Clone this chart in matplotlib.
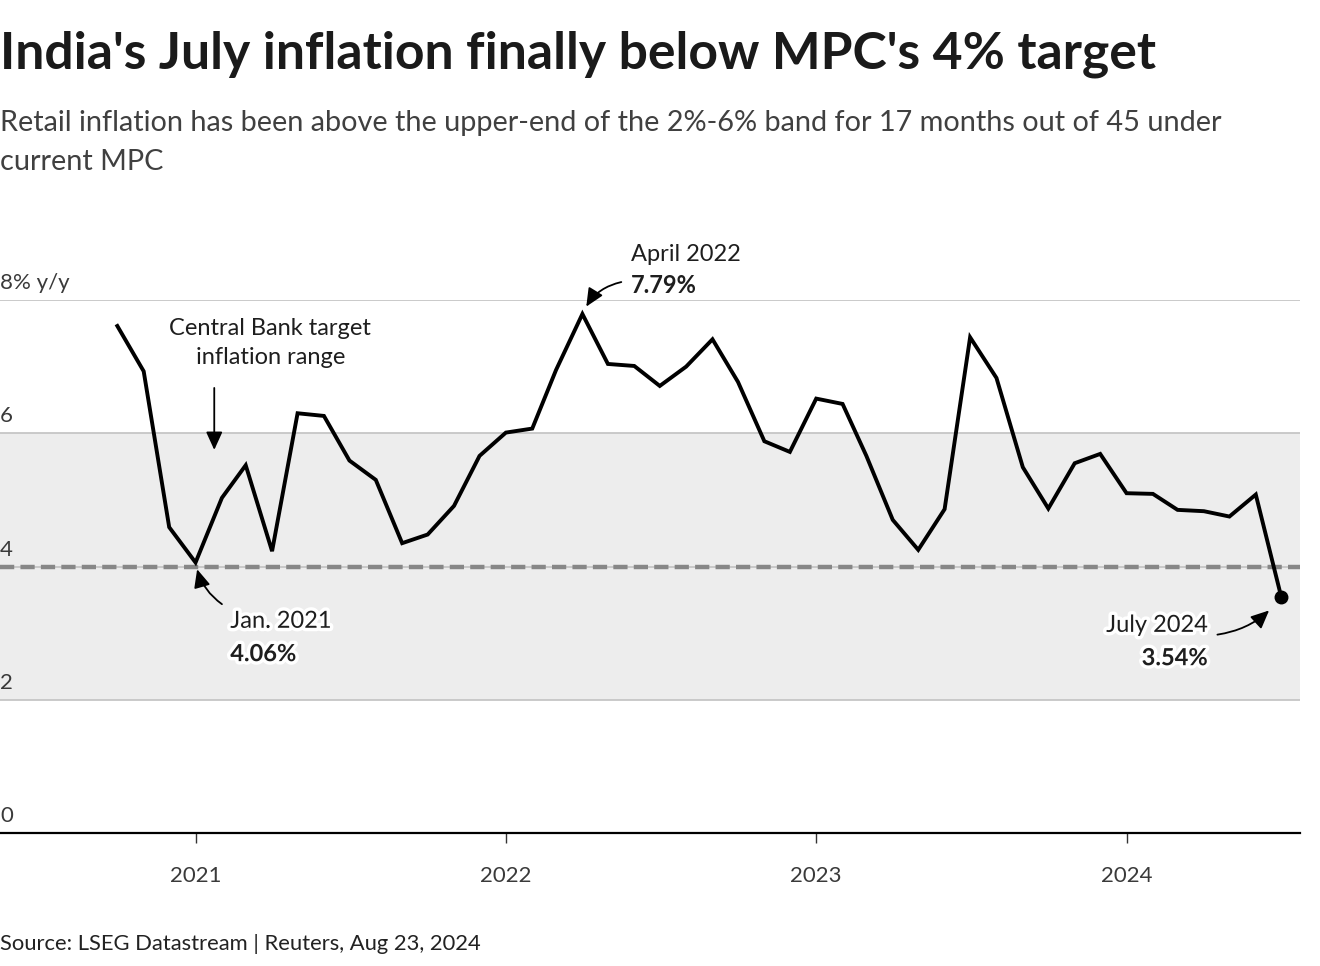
"""
India CPI vs MPC target band, recreated from the Reuters graphic.
"""

import pandas as pd
import matplotlib
matplotlib.use('Agg')
import matplotlib.pyplot as plt
import matplotlib.dates as mdates
import matplotlib.patheffects as pe
from matplotlib.transforms import blended_transform_factory

plt.rcParams['font.family'] = ['Lato', 'DejaVu Sans']

# Monthly retail inflation, % y/y (Oct 2020 .. Jul 2024)
months = pd.date_range('2020-10-01', '2024-07-01', freq='MS')
cpi = [
    7.61, 6.93, 4.59,
    4.06, 5.03, 5.52, 4.23, 6.30, 6.26, 5.59, 5.30, 4.35, 4.48, 4.91, 5.66,
    6.01, 6.07, 6.95, 7.79, 7.04, 7.01, 6.71, 7.00, 7.41, 6.77, 5.88, 5.72,
    6.52, 6.44, 5.66, 4.70, 4.25, 4.86, 7.44, 6.83, 5.49, 4.87, 5.55, 5.69,
    5.10, 5.09, 4.85, 4.83, 4.75, 5.08, 3.54,
]

band_low, band_high, target = 2, 6, 4
y_ticks = [0, 2, 4, 6, 8]
y_labels = ['0', '2', '4', '6', '8% y/y']
year_ticks = pd.to_datetime(['2021-01-01', '2022-01-01', '2023-01-01', '2024-01-01'])

TXT = '#1e1e1e'
LIGHT = '#3a3a3a'
GRID = '#c6c6c6'

W, H = 1320, 966
fig = plt.figure(figsize=(W / 100, H / 100), dpi=100)


def fx(px):
    return px / W


def fy(py):
    return 1 - py / H


ax = fig.add_axes([0, fy(833), fx(1300), (833 - 300) / H])
ax.set_xlim(pd.Timestamp('2020-05-16'), pd.Timestamp('2024-07-23'))
ax.set_ylim(0, 8)

# target band + gridlines
ax.axhspan(band_low, band_high, color='#ededed', lw=0, zorder=0)
for v in y_ticks[1:]:
    ax.axhline(v, color=GRID, lw=1.3, zorder=1)
ax.axhline(target, color='#878787', lw=3.2, dashes=(3.2, 1.4), zorder=2)

ax.plot(months, cpi, color='black', lw=2.8, solid_joinstyle='miter', zorder=4)
ax.plot(months[-1], cpi[-1], 'o', color='black', ms=9, zorder=5, clip_on=False)

# y labels sit above their gridlines
trans = blended_transform_factory(ax.transAxes, ax.transData)
for v, lab in zip(y_ticks, y_labels):
    ax.annotate(lab, (0, v), xycoords=trans, xytext=(0, 5), textcoords='offset points',
                ha='left', va='bottom', fontsize=16, color=LIGHT)

ax.set_yticks([])
ax.set_xticks(year_ticks)
ax.xaxis.set_major_formatter(mdates.DateFormatter('%Y'))
ax.tick_params(axis='x', length=7, width=1, color='#333333', pad=17,
               labelsize=16, labelcolor=LIGHT)
for s in ['top', 'left', 'right']:
    ax.spines[s].set_visible(False)
ax.spines['bottom'].set_linewidth(1.6)
ax.patch.set_alpha(0)

halo = [pe.withStroke(linewidth=5, foreground='white')]
arrow = dict(arrowstyle='-|>,head_length=1.1,head_width=0.5', color='black', lw=1.3,
             shrinkA=0)

# April 2022 peak
i_peak = cpi.index(max(cpi))
ax.annotate('', (months[i_peak], cpi[i_peak]), xytext=(28, 23), textcoords='offset points',
            arrowprops=dict(arrow, shrinkB=6, connectionstyle='arc3,rad=0.25'), annotation_clip=False)
ax.annotate('April 2022', (months[i_peak], cpi[i_peak]), xytext=(35, 38), textcoords='offset points',
            ha='left', va='baseline', fontsize=17, color=TXT, annotation_clip=False)
ax.annotate('7.79%', (months[i_peak], cpi[i_peak]), xytext=(35, 15), textcoords='offset points',
            ha='left', va='baseline', fontsize=17, fontweight='bold', color=TXT, annotation_clip=False)

# Jan 2021 low
i_jan = 3
ax.annotate('', (months[i_jan], cpi[i_jan]), xytext=(19, -30), textcoords='offset points',
            arrowprops=dict(arrow, shrinkB=5, connectionstyle='arc3,rad=-0.2'))
ax.annotate('Jan. 2021', (months[i_jan], cpi[i_jan]), xytext=(25, -47), textcoords='offset points',
            ha='left', va='baseline', fontsize=17, color=TXT, path_effects=halo)
ax.annotate('4.06%', (months[i_jan], cpi[i_jan]), xytext=(25, -71), textcoords='offset points',
            ha='left', va='baseline', fontsize=17, fontweight='bold', color=TXT, path_effects=halo)

# July 2024 latest
ax.annotate('', (months[-1], cpi[-1]), xytext=(-46, -27), textcoords='offset points',
            arrowprops=dict(arrow, shrinkB=13, connectionstyle='arc3,rad=0.2'))
ax.annotate('July 2024', (months[-1], cpi[-1]), xytext=(-53, -25), textcoords='offset points',
            ha='right', va='baseline', fontsize=17, color=TXT, path_effects=halo)
ax.annotate('3.54%', (months[-1], cpi[-1]), xytext=(-53, -49), textcoords='offset points',
            ha='right', va='baseline', fontsize=17, fontweight='bold', color=TXT, path_effects=halo)

# band label
band_x = pd.Timestamp('2021-01-23')
ax.annotate('', (band_x, 5.75), xytext=(band_x, 6.68),
            arrowprops=dict(arrow, shrinkB=0), annotation_clip=False)
ax.text(pd.Timestamp('2021-03-30'), 6.98, 'Central Bank target\ninflation range', ha='center',
        va='bottom', fontsize=17, color=TXT, linespacing=1.45)

# header / footer
fig.text(0, fy(68), "India's July inflation finally below MPC's 4% target", ha='left',
         va='baseline', fontsize=37.2, fontweight='bold', color='#1a1a1a')
fig.text(0, fy(170), 'Retail inflation has been above the upper-end of the 2%-6% band for 17 months out of 45 under\ncurrent MPC',
         ha='left', va='baseline', fontsize=20.8, color='#404040', linespacing=1.62)
fig.text(0, fy(950), 'Source: LSEG Datastream | Reuters, Aug 23, 2024', ha='left', va='baseline',
         fontsize=15.8, color='#222222')

fig.savefig('out.png', dpi=100)
